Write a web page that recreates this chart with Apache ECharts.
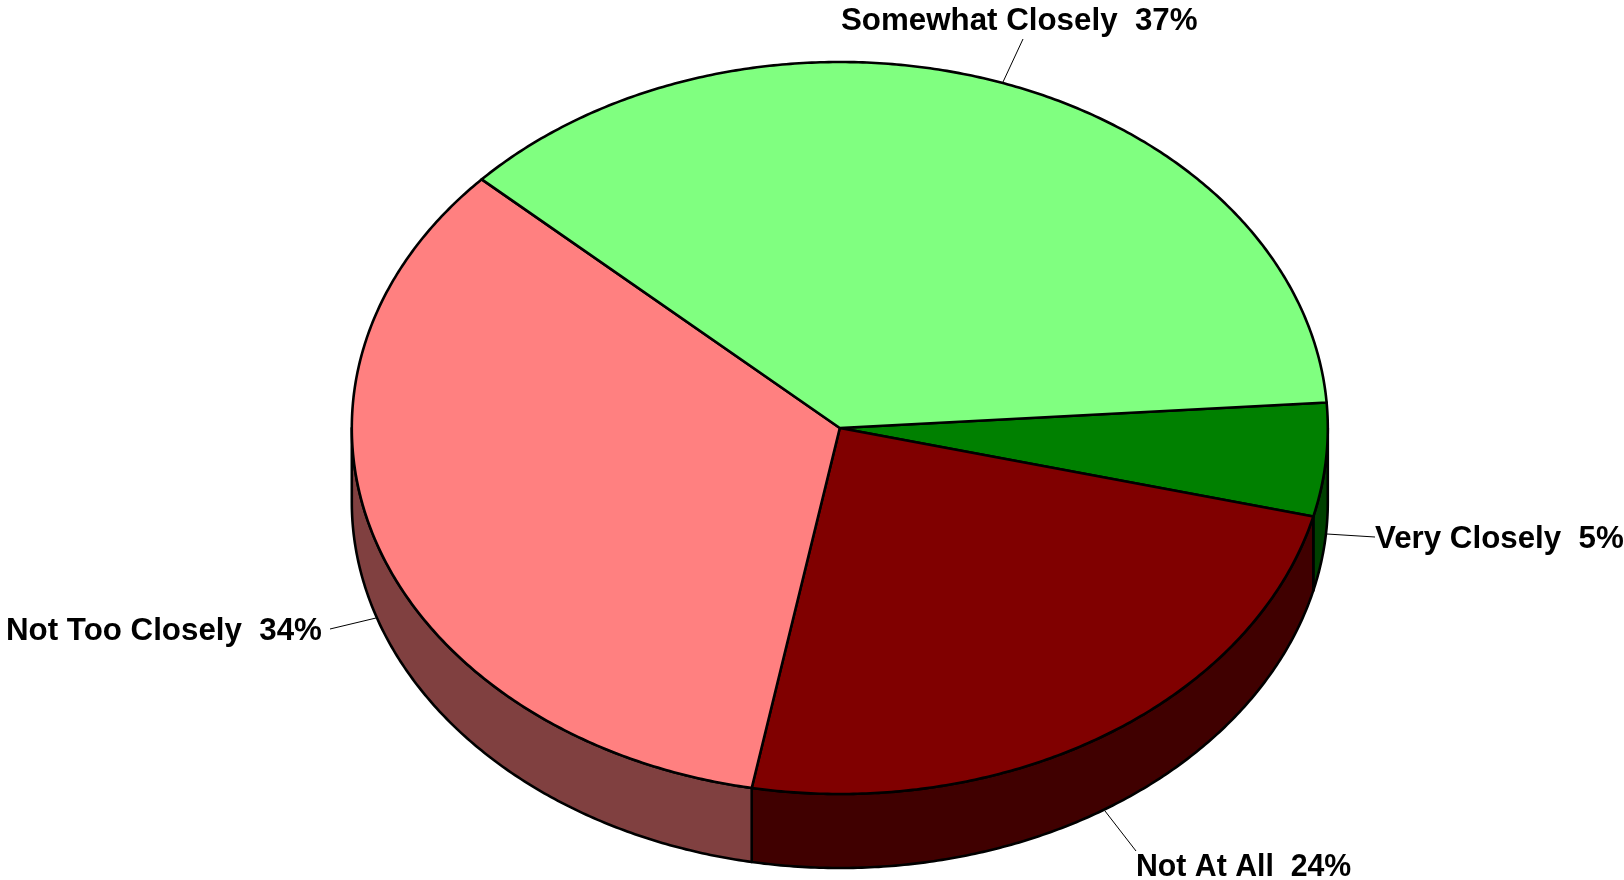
<!DOCTYPE html>
<html>
<head>
<meta charset="utf-8">
<style>html,body{margin:0;padding:0;background:#fff}#c{width:1624px;height:880px}</style>
<script src="https://cdn.jsdelivr.net/npm/echarts@6/dist/echarts.min.js"></script>
</head>
<body>
<div id="c"></div>
<script>
// Data, clockwise from the start angle
const categories = ['Very Closely', 'Not At All', 'Not Too Closely', 'Somewhat Closely'];
const percents = [5, 24, 34, 37];
const topColors = ['#008000', '#800000', '#FF8080', '#80FF80'];
const wallColors = ['#004000', '#400000', '#804040', '#408040'];

// Pie geometry
const CX = 839.8, CY = 428, RX = 488, RY = 366, DEPTH = 74;
const START_DEG = -4;

// Label placement for each category: text anchor, width squeeze, then the leader line ends
const labelX = [1375, 1136, 6, 841];
const labelY = [539, 867, 631, 21];
const labelSqueeze = [1, 0.967, 1, 1];
const leaderStart = [[1327, 534], [1105, 811], [330, 629], [1023, 39]];
const leaderEnd = [[1375, 537], [1136, 851], [376, 618], [1003, 82]];

const total = percents.reduce((a, b) => a + b, 0);
function sliceRange(i) {
  let sum = 0;
  for (let k = 0; k < i; k++) sum += percents[k];
  return [START_DEG + sum / total * 360, START_DEG + (sum + percents[i]) / total * 360];
}
function rim(a0, a1, dy) {
  const pts = [];
  const n = Math.max(2, Math.ceil(Math.abs(a1 - a0) * 2));
  for (let j = 0; j <= n; j++) {
    const t = (a0 + (a1 - a0) * j / n) * Math.PI / 180;
    pts.push([CX + RX * Math.cos(t), CY + RY * Math.sin(t) + dy]);
  }
  return pts;
}
const edge = { stroke: '#000', lineWidth: 2.6, lineJoin: 'round' };

function renderWall(params) {
  const i = params.dataIndex;
  const r = sliceRange(i);
  const a0 = Math.max(r[0], 0), a1 = Math.min(r[1], 180);
  if (a1 <= a0) return { type: 'group', children: [] };
  const pts = rim(a0, a1, 0).concat(rim(a1, a0, DEPTH));
  return {
    type: 'polygon',
    shape: { points: pts },
    style: Object.assign({ fill: wallColors[i] }, edge)
  };
}
function renderTop(params) {
  const i = params.dataIndex;
  const r = sliceRange(i);
  const pts = [[CX, CY]].concat(rim(r[0], r[1], 0));
  return {
    type: 'polygon',
    shape: { points: pts },
    style: Object.assign({ fill: topColors[i] }, edge)
  };
}
function renderLabel(params) {
  const i = params.dataIndex;
  return {
    type: 'group',
    children: [
      {
        type: 'line',
        shape: { x1: leaderStart[i][0], y1: leaderStart[i][1], x2: leaderEnd[i][0], y2: leaderEnd[i][1] },
        style: { stroke: '#000', lineWidth: 1 }
      },
      {
        type: 'text',
        x: labelX[i],
        y: labelY[i],
        scaleX: labelSqueeze[i],
        style: {
          x: 0, y: 0,
          text: categories[i] + '  ' + percents[i] + '%',
          fill: '#000',
          fontFamily: '"Liberation Sans", Arial, sans-serif',
          fontWeight: 'bold',
          fontSize: 31.3,
          align: 'left',
          verticalAlign: 'middle'
        }
      }
    ]
  };
}
const seriesData = percents.map((v, i) => ({ name: categories[i], value: v }));
const chart = echarts.init(document.getElementById('c'), null, { renderer: 'canvas' });
chart.setOption({
  backgroundColor: '#fff',
  animation: false,
  tooltip: { show: false },
  series: [
    { type: 'custom', coordinateSystem: 'none', z: 1, renderItem: renderWall, data: seriesData, silent: true },
    { type: 'custom', coordinateSystem: 'none', z: 2, renderItem: renderTop, data: seriesData, silent: true },
    { type: 'custom', coordinateSystem: 'none', z: 3, renderItem: renderLabel, data: seriesData, silent: true }
  ]
});
</script>
</body>
</html>
